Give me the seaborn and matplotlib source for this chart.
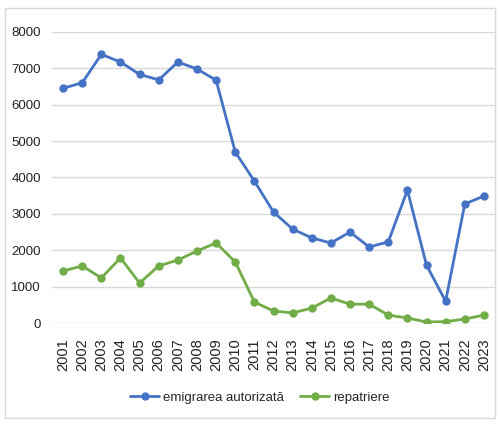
import pandas as pd
import numpy as np
import matplotlib.pyplot as plt
import seaborn as sns
from matplotlib.patches import Rectangle

sns.set_theme(style="white")
plt.rcParams['font.family'] = ['Liberation Sans Narrow', 'Liberation Sans', 'DejaVu Sans']

# Dados
ani = list(range(2001, 2024))
emigrare = [6450, 6600, 7380, 7170, 6830, 6680, 7170, 6980, 6670, 4700, 3900, 3050,
            2580, 2340, 2200, 2500, 2090, 2230, 3650, 1590, 600, 3270, 3490]
repatriere = [1430, 1570, 1240, 1790, 1100, 1570, 1730, 1980, 2200, 1680, 580, 330,
              280, 410, 690, 520, 520, 220, 140, 30, 40, 110, 220]
serii = ['emigrarea autorizată', 'repatriere']
culori = ['#4472C4', '#70AD47']

data = pd.DataFrame({
    'An': ani * 2,
    'Valoare': emigrare + repatriere,
    'Serie': [serii[0]] * len(ani) + [serii[1]] * len(ani),
})

fig = plt.figure(figsize=(5, 4.24), dpi=100)
ax = fig.add_axes([0.104, 0.238, 0.886, 0.687])

sns.lineplot(data=data, x='An', y='Valoare', hue='Serie', palette=culori,
             marker='o', markersize=6, linewidth=2, markeredgewidth=0, ax=ax)

ax.set_xlim(2000.42, 2023.58)
ax.set_ylim(0, 8000)
ax.set_yticks(range(0, 8001, 1000))
ax.set_xticks(ani)
ax.set_xticklabels([str(a) for a in ani], rotation=90, fontsize=10.5, color='#222222')
ax.tick_params(axis='y', labelsize=9.5, labelcolor='#222222', pad=2)
ax.tick_params(axis='x', pad=5)
ax.grid(axis='y', color='#D9D9D9', linewidth=1)
ax.set_xlabel('')
ax.set_ylabel('')
for s in ax.spines.values():
    s.set_visible(False)

handles, labels = ax.get_legend_handles_labels()
ax.get_legend().remove()
fig.legend(handles, labels, loc='center', bbox_to_anchor=(0.52, 0.062), ncol=2,
           frameon=False, fontsize=9.5, handlelength=2.2, handletextpad=0.3,
           columnspacing=1.2)

# Chenar exterior
fig.patches.append(Rectangle((0.01, 0.015), 0.98, 0.965, transform=fig.transFigure,
                             fill=False, edgecolor='#D9D9D9', linewidth=1))

plt.savefig('out.png', dpi=100)
